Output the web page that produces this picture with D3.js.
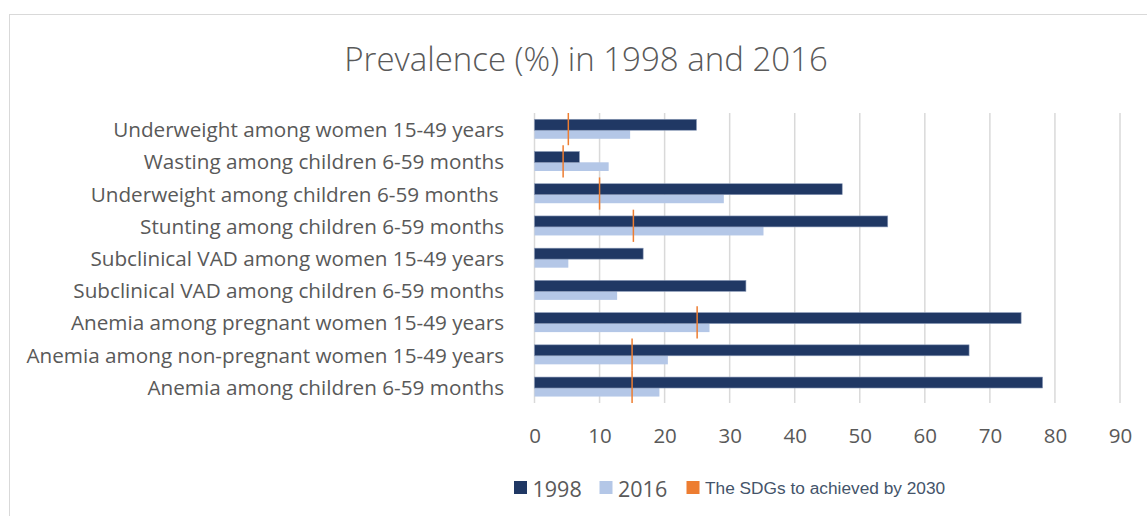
<!DOCTYPE html>
<html>
<head>
<meta charset="utf-8">
<script src="https://cdn.jsdelivr.net/npm/d3@7"></script>
<style>
  html, body { margin: 0; padding: 0; background: #fff; }
  svg { display: block; font-family: "Open Sans", "Noto Sans", sans-serif; }
</style>
</head>
<body>
<svg id="chart" width="1147" height="516"></svg>
<script>
// ---- data ----
const categories = [
  "Underweight among women 15-49 years",
  "Wasting among children 6-59 months",
  "Underweight among children 6-59 months ",
  "Stunting among children 6-59 months",
  "Subclinical VAD among women 15-49 years",
  "Subclinical VAD among children 6-59 months",
  "Anemia among pregnant women 15-49 years",
  "Anemia among non-pregnant women 15-49 years",
  "Anemia among children 6-59 months"
];
const values1998 = [24.9, 6.9, 47.3, 54.3, 16.7, 32.5, 74.8, 66.8, 78.1];
const values2016 = [14.7, 11.4, 29.1, 35.2, 5.2, 12.7, 26.9, 20.5, 19.2];
const sdgTargets = [5.2, 4.4, 10, 15.2, null, null, 25, 15, 15];
const xTicks = [0, 10, 20, 30, 40, 50, 60, 70, 80, 90];
const seriesNames = ["1998", "2016", "The SDGs to achieved by 2030"];
const titleText = "Prevalence (%) in 1998 and 2016";

// ---- styles ----
const C_DARK = "#203864", C_LIGHT = "#B4C7E7", C_SDG = "#ED7D31";
const C_GRID = "#D9D9D9", C_TEXT = "#595959";

const svg = d3.select("#chart");

// chart border
svg.append("rect").attr("x", 9.5).attr("y", 14.5).attr("width", 1160).attr("height", 520)
  .attr("fill", "#fff").attr("stroke", C_GRID).attr("stroke-width", 1);

// title
svg.append("text").attr("x", 586).attr("y", 71).attr("text-anchor", "middle")
  .attr("font-size", 33).attr("fill", C_TEXT).attr("font-weight", 300).text(titleText);

const x = d3.scaleLinear().domain([0, 90]).range([534.5, 1120]);
const y = d3.scaleBand().domain(categories).range([113, 403]).padding(0);
const bw = y.bandwidth();

// gridlines
svg.append("g").selectAll("line").data(xTicks).join("line")
  .attr("x1", d => x(d)).attr("x2", d => x(d))
  .attr("y1", 113).attr("y2", 403)
  .attr("stroke", C_GRID).attr("stroke-width", 1.5);

// x tick labels
const xAxis = d3.axisBottom(x).tickValues(xTicks).tickSize(0).tickPadding(0);
const gx = svg.append("g").attr("transform", "translate(0,428)").call(xAxis);
gx.select(".domain").remove();
gx.selectAll("text").attr("font-size", 20.5).attr("fill", C_TEXT)
  .attr("font-family", "'Open Sans', sans-serif").attr("dy", "0.71em");

// category labels
svg.append("g").selectAll("text").data(categories).join("text")
  .attr("x", 504).attr("y", d => y(d) + bw / 2)
  .attr("text-anchor", "end").attr("dominant-baseline", "central")
  .attr("font-size", 20.7).attr("fill", C_TEXT)
  .style("white-space", "pre")
  .text(d => d);

// bars 2016 (light)
svg.append("g").selectAll("rect").data(categories).join("rect")
  .attr("x", x(0)).attr("width", (d, i) => x(values2016[i]) - x(0))
  .attr("y", d => y(d) + 0.53 * bw).attr("height", 0.27 * bw)
  .attr("fill", C_LIGHT);

// bars 1998 (dark)
svg.append("g").selectAll("rect").data(categories).join("rect")
  .attr("x", x(0)).attr("width", (d, i) => x(values1998[i]) - x(0))
  .attr("y", d => y(d) + 0.195 * bw).attr("height", 0.34 * bw)
  .attr("fill", C_DARK).attr("stroke", "#8a9ab8").attr("stroke-width", 0.6);

// SDG target markers
const sdgData = categories.map((c, i) => ({ c, v: sdgTargets[i] })).filter(d => d.v != null);
svg.append("g").selectAll("line").data(sdgData).join("line")
  .attr("x1", d => x(d.v)).attr("x2", d => x(d.v))
  .attr("y1", d => y(d.c)).attr("y2", d => y(d.c) + bw)
  .attr("stroke", C_SDG).attr("stroke-width", 1.5);

// legend
const legend = svg.append("g");
const legItems = [
  { name: seriesNames[0], color: C_DARK, x: 514, size: 21.5, tcol: C_TEXT },
  { name: seriesNames[1], color: C_LIGHT, x: 599.5, size: 21.5, tcol: C_TEXT },
  { name: seriesNames[2], color: C_SDG, x: 686.5, size: 17.3, tcol: "#44546A" }
];
legItems.forEach(it => {
  legend.append("rect").attr("x", it.x).attr("y", 481).attr("width", 13).attr("height", 13).attr("fill", it.color);
  legend.append("text").attr("x", it.x + 18.5).attr("y", 488).attr("dominant-baseline", "central")
    .attr("font-size", it.size).attr("fill", it.tcol)
    .attr("font-family", it.size < 18 ? "'Liberation Sans', sans-serif" : "'Open Sans', sans-serif")
    .text(it.name);
});
</script>
</body>
</html>
